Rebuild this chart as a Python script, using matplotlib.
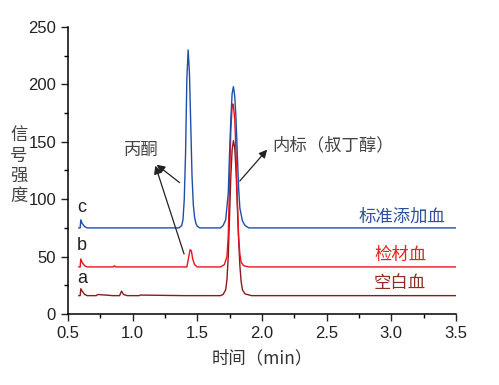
import matplotlib
matplotlib.use("Agg")
from matplotlib import pyplot as plt
from matplotlib.ticker import MultipleLocator

plt.rcParams['font.family'] = ['Liberation Sans', 'Noto Sans CJK SC', 'DejaVu Sans']

# trace c - 标准添加血 (time, signal)
t_c = [0.585, 0.595, 0.60, 0.61, 0.63, 0.65, 1.0, 1.36, 1.38, 1.39, 1.40, 1.41, 1.42, 1.43,
       1.44, 1.45, 1.46, 1.47, 1.48, 1.49, 1.50, 1.52, 1.68, 1.70, 1.72, 1.74, 1.75, 1.76,
       1.77, 1.78, 1.79, 1.80, 1.81, 1.82, 1.83, 1.85, 1.87, 1.90, 3.5]
y_c = [75, 75, 82, 79, 76, 75, 75, 75, 77, 82, 100, 140, 205, 230,
       210, 165, 120, 95, 84, 79, 76.5, 75, 75, 77, 82, 105, 140, 170,
       192, 198, 190, 170, 140, 110, 92, 81, 77, 75, 75]

# trace b - 检材血
t_b = [0.585, 0.595, 0.60, 0.61, 0.63, 0.65, 0.85, 0.86, 0.87, 1.42, 1.435, 1.445, 1.455,
       1.465, 1.48, 1.50, 1.68, 1.71, 1.73, 1.74, 1.75, 1.76, 1.77, 1.775, 1.78, 1.79,
       1.80, 1.81, 1.82, 1.83, 1.84, 1.86, 1.90, 3.5]
y_b = [41, 41, 48, 45, 42, 41, 41, 42, 41, 41, 50, 56, 55,
       48, 43, 41, 41, 43, 50, 68, 115, 160, 181, 183, 181, 170,
       140, 100, 68, 52, 45, 42, 41, 41]

# trace a - 空白血
t_a = [0.585, 0.595, 0.60, 0.61, 0.63, 0.65, 0.72, 0.73, 0.85, 0.90, 0.915, 0.93, 0.96,
       1.05, 1.06, 1.40, 1.68, 1.70, 1.72, 1.73, 1.74, 1.75, 1.76, 1.77, 1.78, 1.79,
       1.80, 1.81, 1.82, 1.83, 1.84, 1.85, 1.87, 1.92, 3.5]
y_a = [16, 16, 22, 20, 17, 16, 16, 17, 16, 16, 20, 17, 16,
       16, 16.5, 16, 16, 17, 21, 30, 50, 85, 120, 143, 151, 145,
       125, 95, 65, 42, 28, 21, 17.5, 16, 16]

names = ['标准添加血', '检材血', '空白血']
letters = ['c', 'b', 'a']
colors = ['#1f4ea8', '#e8141c', '#8b1a1a']
label_colors = ['#2e4fa0', '#e2231a', '#8b2e23']

fig = plt.figure(figsize=(4.99, 3.85), dpi=100)
ax = fig.add_axes([0.136, 0.1844, 0.7776, 0.7455])

ax.plot(t_a, y_a, color=colors[2], lw=1.0)
ax.plot(t_b, y_b, color=colors[1], lw=1.0)
ax.plot(t_c, y_c, color=colors[0], lw=1.0)

ax.set_xlim(0.5, 3.5)
ax.set_ylim(0, 250)
ax.xaxis.set_major_locator(MultipleLocator(0.5))
ax.xaxis.set_minor_locator(MultipleLocator(0.25))
ax.yaxis.set_major_locator(MultipleLocator(50))
ax.yaxis.set_minor_locator(MultipleLocator(25))
ax.xaxis.set_major_formatter(plt.FormatStrFormatter('%.1f'))
ax.tick_params(which='major', direction='out', length=5, width=1, labelsize=12, colors='#222222')
ax.tick_params(which='minor', direction='out', length=3, width=1)
for s in ['top', 'right']:
    ax.spines[s].set_visible(False)
for s in ['left', 'bottom']:
    ax.spines[s].set_linewidth(1.1)

# trace letters
for letter, yv in zip(letters, [93, 60, 31]):
    ax.text(0.61, yv, letter, fontsize=13, ha='center', va='center', color='#222222')

# trace names on the right
cjk = ['Noto Sans CJK SC', 'DejaVu Sans']
for name, yv, c, xr in zip(names, [85, 51.4, 27], label_colors, [3.42, 3.27, 3.27]):
    ax.text(xr, yv, name, fontsize=12.5, ha='right', va='center', color=c, family=cjk)

# annotations
ax.text(1.07, 143, '丙酮', fontsize=12.5, ha='center', va='center', color='#444444', family=cjk)
for tail in [(1.38, 113), (1.405, 50)]:
    ax.annotate('', xy=(1.17, 131.5), xytext=tail,
                arrowprops=dict(arrowstyle='-|>', color='#222222', lw=0.9, mutation_scale=12))
ax.text(2.08, 147, '内标（叔丁醇）', fontsize=12.5, ha='left', va='center', color='#444444', family=cjk)
ax.annotate('', xy=(2.055, 145), xytext=(1.815, 114),
            arrowprops=dict(arrowstyle='-|>', color='#222222', lw=0.9, mutation_scale=12))

fig.text(0.038, 0.57, '信\n号\n强\n度', fontsize=12.5, ha='center', va='center',
         color='#444444', family=cjk, linespacing=1.15)
fig.text(0.525, 0.07, '时间（min）', fontsize=12.5, ha='center', va='center',
         color='#333333', family=cjk)

fig.savefig('out.png', dpi=100)
